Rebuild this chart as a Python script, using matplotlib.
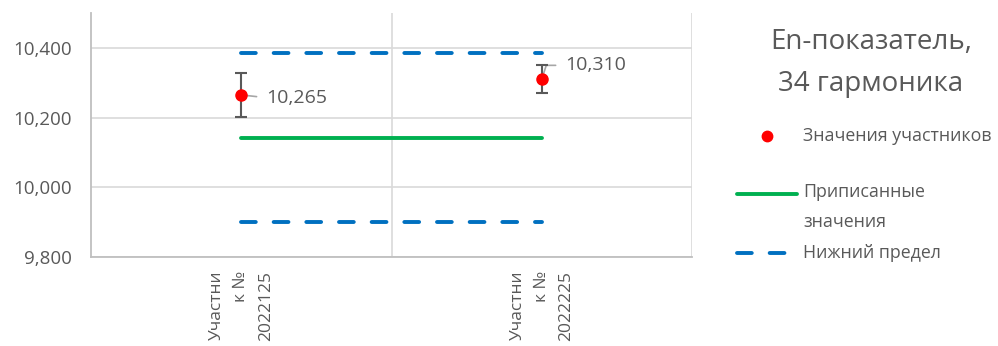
import matplotlib
matplotlib.use("Agg")
import matplotlib.pyplot as plt
from matplotlib.lines import Line2D
from matplotlib.ticker import FuncFormatter

plt.rcParams['font.family'] = ['Open Sans', 'DejaVu Sans']

# Участники и их результаты
participants = ['Участни\nк №\n2022125', 'Участни\nк №\n2022225']
values = [10.265, 10.310]
uncert = [0.062, 0.040]
assigned = [10.142, 10.142]
upper = [10.385, 10.385]
lower = [9.900, 9.900]

title = 'En-показатель,\n34 гармоника'
yticks = [9.8, 10.0, 10.2, 10.4]

TXT = '#595959'
GRID = '#D9D9D9'
AXIS = '#BFBFBF'
BLUE = '#0070C0'
GREEN = '#00B050'
RED = '#FF0000'

W, H = 998, 346
fig = plt.figure(figsize=(W / 100, H / 100), dpi=100)


def fx(px):
    return px / W


def fy(py):
    return 1 - py / H


def fmt(v):
    return f'{v:.3f}'.replace('.', ',')


ax = fig.add_axes([fx(91), fy(257), (692 - 91) / W, (257 - 13) / H])

x = list(range(len(participants)))
lw = 2.8
dash = (3.8, 4.6)

ax.plot(x, upper, color=BLUE, lw=lw, dashes=dash, dash_capstyle='round', zorder=3)
ax.plot(x, lower, color=BLUE, lw=lw, dashes=dash, dash_capstyle='round', zorder=3)
ax.plot(x, assigned, color=GREEN, lw=lw, solid_capstyle='round', zorder=3)
ax.errorbar(x, values, yerr=uncert, fmt='none', ecolor='#595959',
            elinewidth=1.5, capsize=4, capthick=1.5, zorder=4)
ax.plot(x, values, 'o', color=RED, ms=8, zorder=5)

# подписи значений
ax.annotate(fmt(values[0]), xy=(x[0], values[0]),
            xytext=(18, -2), textcoords='offset points', va='center',
            fontsize=14, color=TXT,
            arrowprops=dict(arrowstyle='-', color='#A6A6A6', lw=1.2,
                            shrinkA=5, shrinkB=1, relpos=(0, 0.5)))
ax.annotate(fmt(values[1]), xy=(x[1], values[1]),
            xytext=(17, 10), textcoords='offset points', va='center',
            fontsize=14, color=TXT,
            arrowprops=dict(arrowstyle='-', color='#A6A6A6', lw=1.2,
                            shrinkA=5, shrinkB=1, relpos=(0, 0.5),
                            connectionstyle='angle,angleA=0,angleB=72,rad=0'))

ax.set_xlim(-0.5, 1.5)
ax.set_ylim(9.8, 10.5)
ax.set_yticks(yticks)
ax.yaxis.set_major_formatter(FuncFormatter(lambda v, p: fmt(v)))
ax.set_xticks(x)
ax.set_xticklabels(participants, rotation=90, fontsize=12.5, color=TXT, linespacing=1.7)
for lbl in ax.get_xticklabels():
    lbl.set_multialignment('right')
ax.tick_params(axis='y', length=0, labelsize=13.5, labelcolor=TXT, pad=14)
ax.tick_params(axis='x', length=0, pad=10)

ax.grid(axis='y', color=GRID, lw=1.2, zorder=0)
for xv in [0.5, 1.5]:
    ax.axvline(xv, color=GRID, lw=1.2, zorder=0)
for side in ['top', 'right']:
    ax.spines[side].set_visible(False)
for side in ['left', 'bottom']:
    ax.spines[side].set_color(AXIS)
    ax.spines[side].set_linewidth(1.3)

fig.text(fx(871), fy(63), title, ha='center', va='center', fontsize=20,
         color=TXT, linespacing=1.62)

# легенда
fig.add_artist(Line2D([fx(767)], [fy(136)], marker='o', color=RED, ms=7.5,
                      transform=fig.transFigure))
fig.text(fx(803), fy(136), 'Значения участников', va='center', fontsize=12.8, color=TXT)
fig.add_artist(Line2D([fx(737), fx(797)], [fy(194), fy(194)], color=GREEN, lw=lw,
                      solid_capstyle='round', transform=fig.transFigure))
fig.text(fx(803), fy(207), 'Приписанные\nзначения', va='center', fontsize=12.8,
         color=TXT, linespacing=1.8)
fig.add_artist(Line2D([fx(737), fx(786)], [fy(253), fy(253)], color=BLUE, lw=lw,
                      dashes=dash, dash_capstyle='round', transform=fig.transFigure))
fig.text(fx(803), fy(253), 'Нижний предел', va='center', fontsize=12.8, color=TXT)

fig.savefig('out.png', dpi=100)
